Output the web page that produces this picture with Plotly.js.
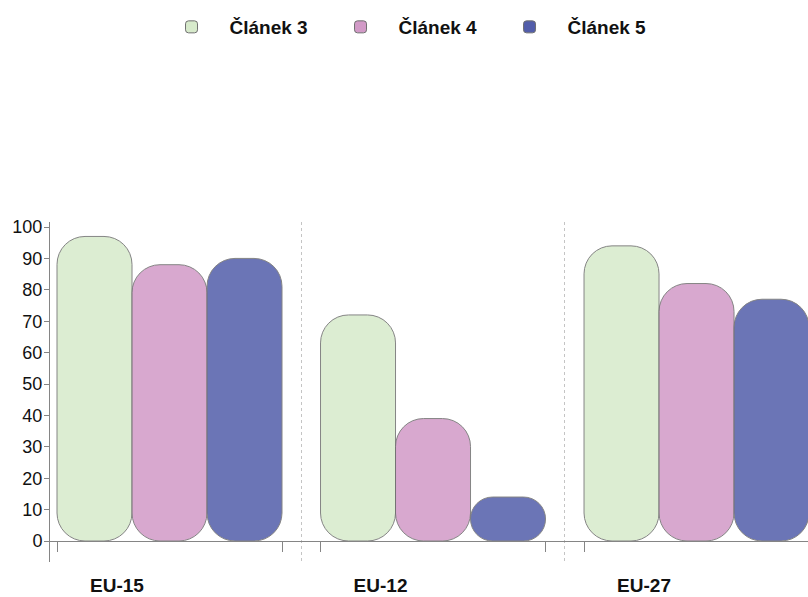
<!DOCTYPE html>
<html><head><meta charset="utf-8">
<script src="https://cdn.plot.ly/plotly-3.0.1.min.js"></script>
<style>body{margin:0;background:#fff}#chart{width:808px;height:597px}</style>
</head><body><div id="chart"></div>
<script>
const categories = ['EU-15', 'EU-12', 'EU-27'];
const seriesNames = ['Článek 3', 'Článek 4', 'Článek 5'];
const clanek3 = [97, 72, 94];
const clanek4 = [88, 39, 82];
const clanek5 = [90, 14, 77];
const yTicks = [0, 10, 20, 30, 40, 50, 60, 70, 80, 90, 100];

const series = [clanek3, clanek4, clanek5];
const fills = ['#d7eacb', '#d29ac7', '#525daa'];
const edge = '#707070';
const axisColor = '#858585';
const W = 808, H = 597, mL = 50, mR = 0, mT = 222, mB = 35;
const plotW = W - mL - mR, plotH = H - mT - mB;
const xRange = [-0.4535, 2.423];
const yRange = [-6.69, 101.6];
const pxPerX = plotW / (xRange[1] - xRange[0]);
const bw = 75 / pxPerX;
const offsets = [-1.5 * bw, -0.5 * bw, 0.5 * bw];
const xs = categories.map((c, i) => i);
const font = 'Liberation Sans, Arial, sans-serif';

const traces = series.map((vals, s) => ({
  type: 'bar', name: seriesNames[s], x: xs, y: vals, base: 0,
  width: bw, offset: offsets[s],
  marker: {color: fills[s], opacity: 0.85, line: {color: edge, width: 1}, cornerradius: 28}
}));

const edgeTicks = [];
const edgeText = [];
xs.forEach((x, i) => {
  edgeTicks.push(x + offsets[0]); edgeText.push(categories[i]);
  edgeTicks.push(x + offsets[2] + bw); edgeText.push('');
});
const zeroPos = (0 - yRange[0]) / (yRange[1] - yRange[0]);

const layout = {
  width: W, height: H,
  margin: {l: mL, r: mR, t: mT, b: mB},
  paper_bgcolor: '#fff', plot_bgcolor: '#fff',
  barmode: 'overlay',
  font: {family: font, color: '#111'},
  showlegend: true,
  legend: {
    orientation: 'h', xref: 'container', yref: 'container',
    x: 0.190, xanchor: 'left', y: 1 - 27 / H, yanchor: 'middle',
    itemwidth: 66,
    entrywidth: 88, entrywidthmode: 'pixels',
    font: {family: font, size: 19, color: '#111', weight: 'bold'},
    traceorder: 'normal'
  },
  xaxis: {
    type: 'linear', range: xRange, anchor: 'free', position: zeroPos,
    tickmode: 'array', tickvals: edgeTicks, ticktext: edgeText,
    ticks: 'outside', ticklen: 10, tickwidth: 1, tickcolor: axisColor,
    showline: true, linecolor: axisColor, linewidth: 1,
    showgrid: false, zeroline: false,
    ticklabelshift: 60, ticklabelstandoff: 17,
    tickfont: {family: font, size: 19, color: '#111', weight: 'bold'},
    minor: {tickmode: 'array', tickvals: [0.5, 1.5], showgrid: true, gridcolor: '#c4c4c4', griddash: 'dot', gridwidth: 1, ticks: ''},
    fixedrange: true
  },
  yaxis: {
    range: yRange, tickmode: 'array', tickvals: yTicks,
    ticks: 'outside', ticklen: 5, tickcolor: axisColor,
    showline: true, linecolor: axisColor, linewidth: 1,
    showgrid: false, zeroline: false,
    ticklabelstandoff: -2,
    tickfont: {family: font, size: 18, color: '#111'},
    fixedrange: true
  },
  yaxis2: {
    range: yRange, overlaying: 'y', anchor: 'x', side: 'left',
    tickmode: 'array', tickvals: yTicks.filter(v => v > 0 && v % 20 === 0),
    showticklabels: false, ticks: '', showline: false, zeroline: false,
    showgrid: true, gridcolor: '#b5b5b5', griddash: 'dash', gridwidth: 1,
    fixedrange: true
  }
};

Plotly.newPlot('chart', traces, layout, {displayModeBar: false, staticPlot: true});
</script>
</body></html>
